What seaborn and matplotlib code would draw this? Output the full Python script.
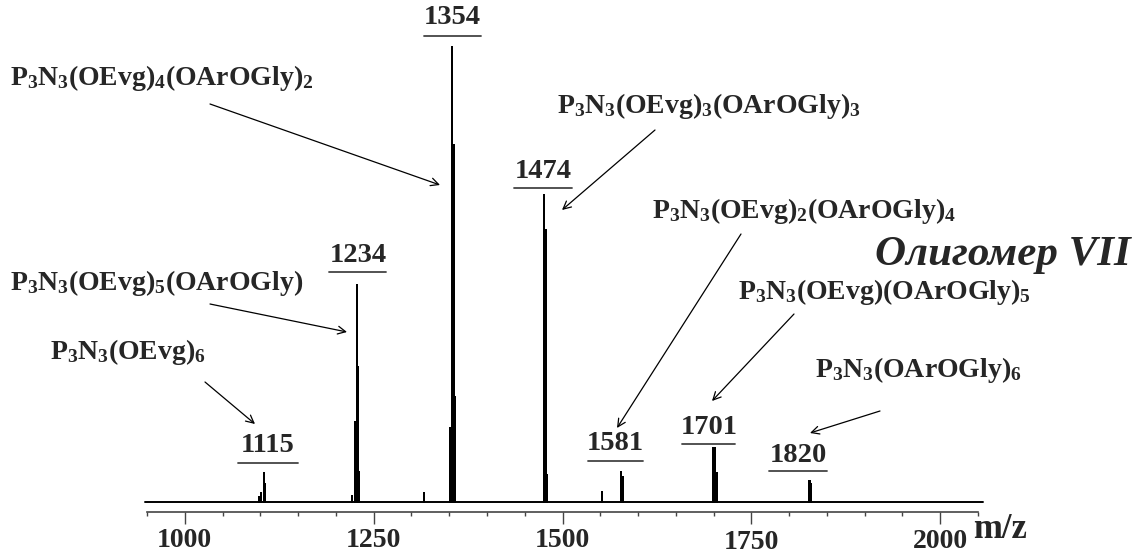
import matplotlib
matplotlib.use("Agg")
import matplotlib.pyplot as plt
from matplotlib.lines import Line2D
import numpy as np
import pandas as pd
import seaborn as sns

# ---- data (relative intensity, %) ----
peak_mz = [1098.0, 1100.7, 1104.6, 1105.8,
           1220.8, 1222.0, 1225.8, 1227.8, 1229.0, 1230.5,
           1316.6, 1351.0, 1353.4, 1355.0, 1356.2, 1357.2,
           1475.5, 1477.0, 1478.1, 1480.1,
           1551.9, 1577.5, 1579.0, 1580.1,
           1699.3, 1700.6, 1702.0, 1704.6,
           1826.5, 1828.0, 1829.1]
peak_int = [1.1, 2.0, 6.4, 4.0,
            1.3, 1.3, 17.6, 47.7, 29.7, 6.6,
            2.0, 16.3, 100.0, 78.5, 78.5, 23.0,
            67.5, 59.8, 59.8, 6.0,
            2.2, 6.6, 5.6, 5.6,
            11.9, 11.9, 11.9, 6.4,
            4.6, 4.6, 4.0]
mz_start, mz_end = 947, 2057

tick_values = [1000, 1250, 1500, 1750, 2000]
tick_labels = ["1000", "1250", "1500", "1750", "2000"]

peak_labels = ["1115", "1234", "1354", "1474", "1581", "1701", "1820"]
formulas = [
    r"$\mathbf{P_3N_3(OEvg)_4(OArOGly)_2}$",
    r"$\mathbf{P_3N_3(OEvg)_3(OArOGly)_3}$",
    r"$\mathbf{P_3N_3(OEvg)_5(OArOGly)}$",
    r"$\mathbf{P_3N_3(OEvg)_2(OArOGly)_4}$",
    r"$\mathbf{P_3N_3(OEvg)(OArOGly)_5}$",
    r"$\mathbf{P_3N_3(OEvg)_6}$",
    r"$\mathbf{P_3N_3(OArOGly)_6}$",
]
title_text = "Олигомер VII"

# ---- build spectrum path from sticks ----
xs, ys = [mz_start], [0.0]
for m, h in zip(peak_mz, peak_int):
    xs += [m, m, m]
    ys += [0.0, h, 0.0]
xs.append(mz_end)
ys.append(0.0)
spec = pd.DataFrame({"mz": xs, "intensity": ys})

# ---- style ----
sns.set_theme(style="white")
plt.rcParams["font.family"] = ["Liberation Serif", "DejaVu Serif"]
plt.rcParams["font.weight"] = "bold"
plt.rcParams["mathtext.fontset"] = "custom"
plt.rcParams["mathtext.rm"] = "Liberation Serif:bold"
plt.rcParams["mathtext.bf"] = "Liberation Serif:bold"
plt.rcParams["mathtext.it"] = "Liberation Serif:bold"

W, H = 1143, 553
fig = plt.figure(figsize=(W / 100, H / 100), dpi=100)
fig.patch.set_facecolor("white")

ax_left, ax_right, ax_bottom = 147, 978, 512
baseline_px = 502
px_per_unit = baseline_px - 47  # px for 100 %
ax = fig.add_axes([ax_left / W, (H - ax_bottom) / H, (ax_right - ax_left) / W, ax_bottom / H])
ax.set_facecolor("none")

sns.lineplot(data=spec, x="mz", y="intensity", sort=False, estimator=None,
             color="black", linewidth=1.4, ax=ax)
for l in ax.lines:
    l.set_clip_on(False)

ax.set_xlim(950, 2050)
ax.set_ylim(-(ax_bottom - baseline_px) / px_per_unit * 100, baseline_px / px_per_unit * 100)
for s in ["left", "right", "top"]:
    ax.spines[s].set_visible(False)
ax.spines["bottom"].set_color("#444444")
ax.spines["bottom"].set_linewidth(1.2)
ax.set_yticks([])
ax.set_xlabel("")
ax.set_ylabel("")
ax.set_xticks(tick_values)
ax.set_xticklabels(tick_labels, fontsize=20, fontweight="bold")
ax.set_xticks(np.arange(950, 2051, 50), minor=True)
ax.tick_params(axis="x", which="major", direction="out", length=8.5, width=1, color="#444444", pad=3, bottom=True)
ax.tick_params(axis="x", which="minor", direction="out", length=3, width=1, color="#444444", bottom=True)
extra_pad = [0, 0, 0, 1.5, 0.5]
for t, p in zip(ax.xaxis.get_major_ticks(), extra_pad):
    t.set_pad(3 + p)

def fy(y):
    return (H - y) / H

def fx(x):
    return x / W

# m/z label
fig.text(fx(1000), fy(529), "m/z", fontsize=25, fontweight="bold", ha="center", va="center")

# title
fig.text(fx(1131), fy(255), title_text, fontsize=31, fontweight="bold", style="italic",
         ha="right", va="center")

# peak labels with underline
label_pos = [(268, 445, 238, 298, 463), (358, 256, 329, 386, 272), (452, 18, 424, 481, 36),
             (543, 171, 514, 572, 188), (615, 444, 588, 643, 461), (709, 427, 682, 735, 444),
             (798, 455, 769, 827, 471)]
for txt, (x, y, x0, x1, yl) in zip(peak_labels, label_pos):
    fig.text(fx(x), fy(y), txt, fontsize=20.5, fontweight="bold", ha="center", va="center")
    fig.add_artist(Line2D([fx(x0), fx(x1)], [fy(yl), fy(yl)], transform=fig.transFigure,
                          color="#444444", lw=1.3))

# formula labels with arrows
formula_pos = [(10, 78), (557, 106), (10, 283), (652, 211), (738, 292), (50, 352), (815, 370)]
arrows = [((210, 104), (440, 185)), ((655, 130), (562, 210)), ((210, 304), (347, 332)),
          ((741, 234), (617, 428)), ((794, 314), (712, 401)), ((205, 382), (255, 424)),
          ((880, 411), (810, 433))]
for txt, (x, y), (p0, p1) in zip(formulas, formula_pos, arrows):
    fig.text(fx(x), fy(y), txt, fontsize=20, ha="left", va="center")
    ax.annotate("", xy=(p1[0], H - p1[1]), xytext=(p0[0], H - p0[1]),
                xycoords="figure pixels", textcoords="figure pixels",
                arrowprops=dict(arrowstyle="->", color="black", lw=0.9,
                                mutation_scale=14, shrinkA=0, shrinkB=0))

fig.savefig("out.png", dpi=100)
